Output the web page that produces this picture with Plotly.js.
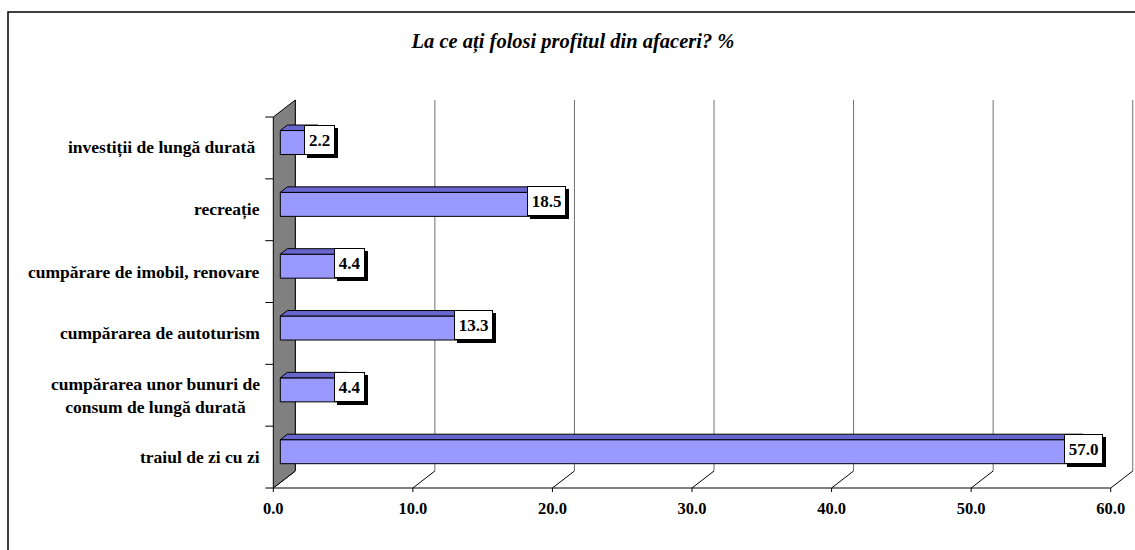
<!DOCTYPE html>
<html>
<head>
<meta charset="utf-8">
<script src="https://cdn.plot.ly/plotly-3.0.1.min.js"></script>
<style>html,body{margin:0;padding:0;background:#fff;}#chart{width:1135px;height:550px;}</style>
</head>
<body>
<div id="chart"></div>
<script>
// ---- data ----
const categories = [
  "traiul de zi cu zi",
  "cumpărarea unor bunuri de<br>consum de lungă durată",
  "cumpărarea de autoturism",
  "cumpărare de imobil, renovare",
  "recreație",
  "investiții de lungă durată "
];
const values = [57.0, 4.4, 13.3, 4.4, 18.5, 2.2];
const xTickVals = [0, 10, 20, 30, 40, 50, 60];
const xTickText = ["0.0", "10.0", "20.0", "30.0", "40.0", "50.0", "60.0"];
const title = "La ce ați folosi profitul din afaceri? %";

// ---- geometry (pixels -> data units) ----
const W = 1135, H = 550;
const mL = 260, mR = 0, mT = 95, mB = 54;
const pxX = 13.957;          // px per x unit
const pxY = 61.83;           // px per category
const x0px = 273.3;          // pixel of value 0 on front plane
const xMin = -(x0px - mL) / pxX;
const xMax = xMin + (W - mL - mR) / pxX;
const yMin = -0.5 - 8 / pxY;
const yMax = yMin + (H - mT - mB) / pxY;

const depthX = 22 / pxX, depthY = 17 / pxY;      // full depth of the floor
const barOffX = 7 / pxX, barOffY = 5.4 / pxY;     // bar front face position in depth
const barDX = 7 / pxX, barDY = 5.5 / pxY;         // bar depth
const barH = 24 / pxY;
const nCat = categories.length;
const xEnd = xTickVals[xTickVals.length - 1];

const serif = "'Liberation Serif', 'Times New Roman', serif";
const shapes = [];
const annotations = [];

// outer frame (paper)
const pw = W - mL - mR, ph = H - mT - mB;
shapes.push({type: 'rect', xref: 'paper', yref: 'paper',
  x0: (8 - mL) / pw, x1: (W + 2 - mL) / pw,
  y0: (H - mB - (H + 2)) / ph, y1: (H - mB - 12) / ph,
  line: {color: '#000', width: 1.5}, fillcolor: 'rgba(0,0,0,0)', layer: 'below'});

// back gridlines + floor diagonals
xTickVals.forEach(v => {
  shapes.push({type: 'line', xref: 'x', yref: 'y', layer: 'below',
    x0: v + depthX, x1: v + depthX, y0: -0.5 + depthY, y1: nCat - 0.5 + depthY,
    line: {color: '#707070', width: 1}});
  shapes.push({type: 'line', xref: 'x', yref: 'y', layer: 'below',
    x0: v, x1: v + depthX, y0: -0.5, y1: -0.5 + depthY,
    line: {color: '#000', width: 1}});
  shapes.push({type: 'line', xref: 'x', yref: 'y', layer: 'below',
    x0: v, x1: v, y0: -0.5, y1: -0.5 - 4 / pxY,
    line: {color: '#000', width: 1}});
});
// front floor edge
shapes.push({type: 'line', xref: 'x', yref: 'y', layer: 'below',
  x0: 0, x1: xEnd, y0: -0.5, y1: -0.5, line: {color: '#000', width: 1}});
// side wall
shapes.push({type: 'path', xref: 'x', yref: 'y', layer: 'below',
  path: `M0,-0.5 L${depthX},${-0.5 + depthY} L${depthX},${nCat - 0.5 + depthY} L0,${nCat - 0.5} Z`,
  fillcolor: '#808080', line: {color: '#000', width: 1}});
// category ticks
for (let i = 0; i <= nCat; i++) {
  shapes.push({type: 'line', xref: 'x', yref: 'y', layer: 'above',
    x0: -8 / pxX, x1: 0, y0: i - 0.5, y1: i - 0.5, line: {color: '#000', width: 1}});
}

// bar top/right faces and labels
const barY = values.map((v, i) => i + barOffY);
values.forEach((v, i) => {
  const yb = barY[i] - barH / 2, yt = barY[i] + barH / 2;
  const xa = barOffX, xb = barOffX + v;
  shapes.push({type: 'path', xref: 'x', yref: 'y', layer: 'above',
    path: `M${xa},${yt} L${xb},${yt} L${xb + barDX},${yt + barDY} L${xa + barDX},${yt + barDY} Z`,
    fillcolor: '#6666CC', line: {color: '#000', width: 1}});
  shapes.push({type: 'path', xref: 'x', yref: 'y', layer: 'above',
    path: `M${xb},${yt} L${xb + barDX},${yt + barDY} L${xb + barDX},${yb + barDY} L${xb},${yb} Z`,
    fillcolor: '#4C4C99', line: {color: '#000', width: 1}});
  const txt = v.toFixed(1);
  const bw = txt.length * 8 + 1;
  // shadow box
  annotations.push({x: xb, y: barY[i], xref: 'x', yref: 'y', text: '&nbsp;', showarrow: false,
    xanchor: 'center', yanchor: 'middle', xshift: 8 + 3, yshift: 3 - 3,
    font: {family: serif, size: 17, color: '#000'}, width: bw, height: 24,
    bgcolor: '#000', bordercolor: '#000', borderwidth: 1, borderpad: 2});
  annotations.push({x: xb, y: barY[i], xref: 'x', yref: 'y', text: '<b>' + txt + '</b>', showarrow: false,
    xanchor: 'center', yanchor: 'middle', xshift: 8, yshift: 3,
    font: {family: serif, size: 17, color: '#000'}, width: bw, height: 24,
    bgcolor: '#fff', bordercolor: '#000', borderwidth: 1, borderpad: 2});
});

// category labels
categories.forEach((c, i) => {
  annotations.push({x: 0, y: i, xref: 'x', yref: 'y', text: '<b>' + c + '</b>', showarrow: false,
    xanchor: 'right', yanchor: 'middle', xshift: -11, align: 'center',
    font: {family: serif, size: 17.5, color: '#000'}});
});

const traces = [{
  type: 'bar', orientation: 'h',
  y: barY, x: values, base: barOffX, width: barH,
  marker: {color: '#9999FF', line: {color: '#000', width: 1}},
  hoverinfo: 'skip'
}];

const layout = {
  width: W, height: H,
  margin: {l: mL, r: mR, t: mT, b: mB, pad: 0},
  paper_bgcolor: '#fff', plot_bgcolor: 'rgba(0,0,0,0)',
  showlegend: false,
  title: {text: '<b><i>' + title + '</i></b>', font: {family: serif, size: 20.5, color: '#000'},
    xref: 'paper', x: (573 - mL) / pw, xanchor: 'center', yref: 'container', y: 1 - 41 / H, yanchor: 'middle'},
  xaxis: {range: [xMin, xMax], tickvals: xTickVals, ticktext: xTickText.map(t => '<b>' + t + '</b>'),
    showgrid: false, zeroline: false, showline: false, ticks: '',
    tickfont: {family: serif, size: 16.5, color: '#000'}, fixedrange: true},
  yaxis: {range: [yMin, yMax], showgrid: false, zeroline: false, showline: false, ticks: '',
    showticklabels: false, fixedrange: true},
  shapes: shapes, annotations: annotations
};

Plotly.newPlot('chart', traces, layout, {staticPlot: true, displayModeBar: false});
</script>
</body>
</html>
